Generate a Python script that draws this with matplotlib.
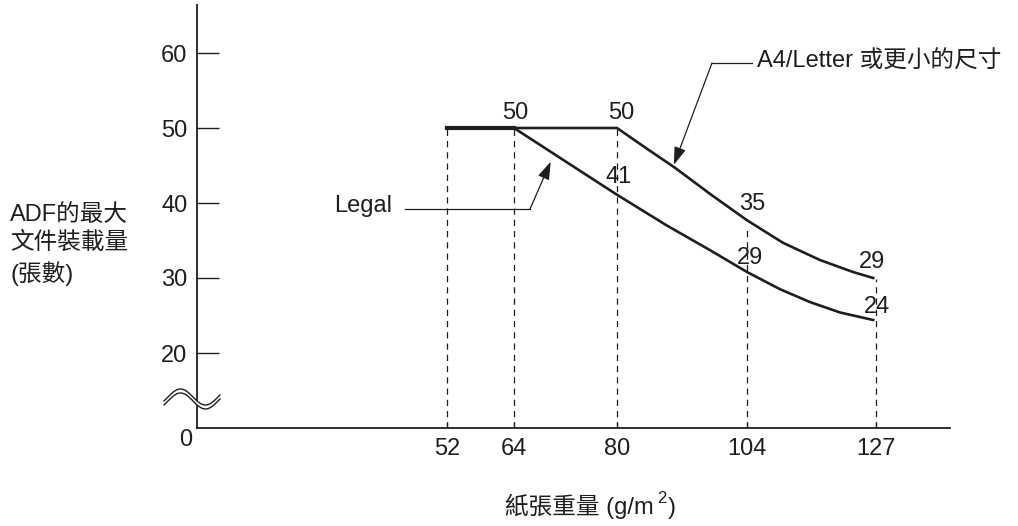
import numpy as np
import matplotlib
matplotlib.use('Agg')
import matplotlib.pyplot as plt
from matplotlib.lines import Line2D
from matplotlib.patches import Polygon

plt.rcParams['font.family'] = ['Liberation Sans', 'Noto Sans CJK TC', 'DejaVu Sans']

# 紙張重量 (g/m2) 刻度
weights = [52, 64, 80, 104, 127]
weight_labels = ['52', '64', '80', '104', '127']
yticks = [20, 30, 40, 50, 60]

# 曲線讀值 (A4/Letter 與 Legal)
a4_w = [52, 80, 85.4, 90.7, 97.2, 104, 110.4, 117.0, 122.9, 126.5]
a4_v = [50, 50, 47.3, 44.7, 41.2, 37.7, 34.7, 32.4, 30.8, 30.0]
legal_w = [52, 64, 71.9, 80, 89.2, 97.2, 104, 109.9, 115.2, 120.6, 126.5]
legal_v = [50, 50, 45.6, 41.1, 37.0, 33.7, 30.8, 28.5, 26.8, 25.4, 24.4]

# 虛線頂端
guide_top = [50, 50, 50, 37.0, 29.9]

# 數字標示: 位置與文字
mark_w = [64, 80, 80, 104, 104, 127, 127]
mark_y = [50, 50, 41.1, 37.7, 30.8, 30.0, 24.4]
mark_txt = ['50', '50', '41', '35', '29', '29', '24']
mark_off = [(1, 15), (4, 15), (2, 18), (5, 16), (3, 14), (-4, 16), (1, 13)]

# x 軸非等距配置 (像素)
anchor_w = [0, 52, 64, 80, 104, 127, 150]
anchor_px = [197, 447, 514, 617, 747, 876, 950]

W, H = 1018, 526
INK = '#1e1e1e'
FS = 17


def px(x, y):
    return (x / W, 1 - y / H)


fig = plt.figure(figsize=(W / 100, H / 100), dpi=100)
ax = fig.add_axes([197 / W, (H - 428) / H, 753 / W, 423 / H])

ax.set_xscale('function', functions=(lambda w: np.interp(w, anchor_w, anchor_px),
                                     lambda p: np.interp(p, anchor_px, anchor_w)))
ax.set_xlim(0, 150)
ax.set_ylim(10, 66.4)

ax.plot(a4_w, a4_v, color=INK, lw=1.9, solid_joinstyle='round', zorder=3)
ax.plot(legal_w, legal_v, color=INK, lw=1.9, solid_joinstyle='round', zorder=3)
ax.plot(legal_w[:2], legal_v[:2], color=INK, lw=3.0, zorder=3)

ax.vlines(weights, 10, guide_top, colors=INK, lw=0.9, linestyles=(0, (5, 4)), zorder=2)

for w, y, t, (dx, dy) in zip(mark_w, mark_y, mark_txt, mark_off):
    ax.annotate(t, xy=(w, y), xytext=(dx, dy), textcoords='offset pixels',
                ha='center', va='center', fontsize=FS, color=INK)

for s in ['top', 'right']:
    ax.spines[s].set_visible(False)
for s in ['left', 'bottom']:
    ax.spines[s].set_linewidth(1.3)
    ax.spines[s].set_color(INK)

ax.set_xticks(weights)
ax.set_xticklabels(weight_labels)
ax.set_yticks(yticks)
ax.set_yticklabels([str(v) for v in yticks])
ax.tick_params(axis='x', direction='in', length=4, width=0.9, pad=7,
               labelsize=FS, colors=INK)
ax.tick_params(axis='y', direction='in', length=16, width=1.0, pad=7,
               labelsize=FS, colors=INK)
ax.minorticks_off()

# "0" 標示
fig.text(*px(192, 440), '0', ha='right', va='center', fontsize=FS, color=INK)

# 斷軸符號
xs = np.linspace(164, 220, 80)
ys = 397 - 8 * np.sin(2 * np.pi * (xs - 168) / 50)
poly = [px(x, y) for x, y in zip(xs, ys)] + [px(x, y + 4) for x, y in zip(xs[::-1], ys[::-1])]
fig.add_artist(Polygon(poly, closed=True, transform=fig.transFigure,
                       facecolor='white', edgecolor='none', zorder=5))
for off in (0, 4):
    fig.add_artist(Line2D(xs / W, 1 - (ys + off) / H, transform=fig.transFigure,
                          color=INK, lw=1.0, zorder=6))

arrow = dict(arrowstyle='-|>,head_length=0.9,head_width=0.3', lw=0.9,
             color=INK, shrinkA=0, shrinkB=0, mutation_scale=12)

# A4/Letter 引線
fig.add_artist(Line2D([712 / W, 752 / W], [1 - 63 / H, 1 - 63 / H],
                      transform=fig.transFigure, color=INK, lw=0.9))
ax.annotate('', xy=(90.5, 45.1), xytext=px(712, 63), textcoords='figure fraction',
            arrowprops=arrow)
fig.text(*px(757, 62), 'A4/Letter 或更小的尺寸', ha='left', va='center',
         fontsize=FS, color=INK)

# Legal 引線
fig.add_artist(Line2D([405 / W, 530 / W], [1 - 209 / H, 1 - 209 / H],
                      transform=fig.transFigure, color=INK, lw=0.9))
ax.annotate('', xy=(69.7, 45.5), xytext=px(530, 209), textcoords='figure fraction',
            arrowprops=arrow)
fig.text(*px(392, 206), 'Legal', ha='right', va='center', fontsize=FS, color=INK)

# 軸標題
fig.text(*px(10, 204), 'ADF的最大\n文件裝載量\n(張數)', ha='left', va='top',
         fontsize=FS, linespacing=1.36, color=INK)

# x 軸標題，上標 2 另外放置
renderer = fig.canvas.get_renderer()
t1 = fig.text(*px(505, 514), '紙張重量 (g/m', ha='left', va='baseline',
              fontsize=FS, color=INK)
x1 = t1.get_window_extent(renderer).x1
t2 = fig.text((x1 + 4) / W, 1 - 503 / H, '2', ha='left', va='baseline',
              fontsize=12, color=INK)
x2 = t2.get_window_extent(renderer).x1
fig.text((x2 + 1) / W, 1 - 514 / H, ')', ha='left', va='baseline',
         fontsize=FS, color=INK)

fig.savefig('out.png', dpi=100)
